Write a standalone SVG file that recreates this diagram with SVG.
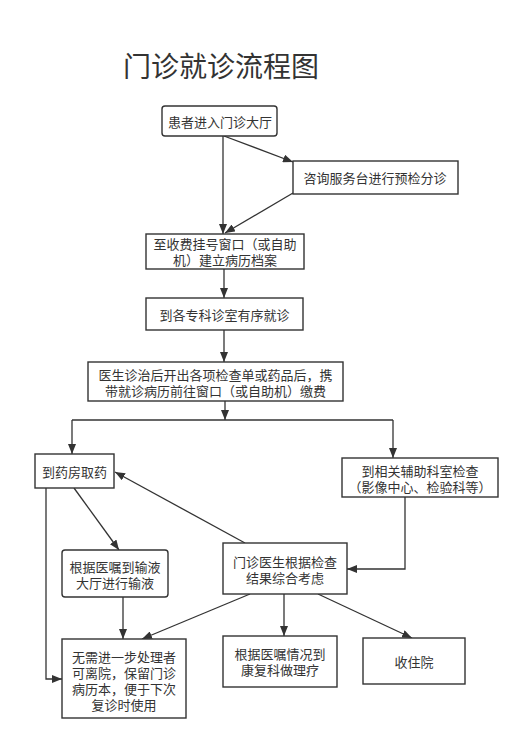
<svg xmlns="http://www.w3.org/2000/svg" width="522" height="742" viewBox="0 0 522 742">
<defs>
<marker id="ah" markerUnits="userSpaceOnUse" markerWidth="10" markerHeight="8" refX="10" refY="4" orient="auto">
<path d="M0,0 L10,4 L0,8 z" fill="#333"/>
</marker>
<style>
.n rect{fill:#fff;stroke:#333;stroke-width:1.4}
.n text,.t{font-family:"Noto Sans CJK SC","Noto Sans",sans-serif;fill:#333;text-anchor:middle;dominant-baseline:central}
.n text{font-size:13px}
.c path{fill:none;stroke:#333;stroke-width:1.3;marker-end:url(#ah)}
.c .p{marker-end:none}
</style>
</defs>
<rect width="522" height="742" fill="#fff"/>
<text class="t" x="221" y="65" font-size="28">门诊就诊流程图</text>
<g class="c">
<path d="M223,136 L223,234"/>
<path d="M224,136 L293,162"/>
<path d="M293,193 L225,233"/>
<path d="M224,269 L224,298"/>
<path d="M224,330 L224,362"/>
<path d="M225,401 L225,420"/>
<path class="p" d="M72,420 L393,420"/>
<path d="M72,420 L72,454"/>
<path d="M393,420 L393,458"/>
<path d="M74,488 L119,550"/>
<path d="M245,543 L115,472"/>
<path d="M405,497 L405,569 L347,569"/>
<path d="M46,488 L46,679 L62,679"/>
<path d="M123,597 L123,639"/>
<path d="M250,594 L142,639"/>
<path d="M284,594 L284,636"/>
<path d="M318,594 L412,638"/>
</g>
<g id="n1" class="n"><rect x="162" y="106" width="115" height="30" rx="3"/><text x="220" y="121">患者进入门诊大厅</text></g>
<g id="n2" class="n"><rect x="293" y="161" width="165" height="33"/><text x="375" y="177.5">咨询服务台进行预检分诊</text></g>
<g id="n3" class="n"><rect x="146" y="234" width="158" height="35"/><text x="225" y="243">至收费挂号窗口（或自助</text><text x="225" y="259">机）建立病历档案</text></g>
<g id="n4" class="n"><rect x="146" y="298" width="157" height="32"/><text x="224.5" y="314">到各专科诊室有序就诊</text></g>
<g id="n5" class="n"><rect x="88" y="362" width="255" height="39"/><text x="215.5" y="374">医生诊治后开出各项检查单或药品后，携</text><text x="215.5" y="390">带就诊病历前往窗口（或自助机）缴费</text></g>
<g id="n6" class="n"><rect x="35" y="454" width="79" height="34"/><text x="74.5" y="471">到药房取药</text></g>
<g id="n7" class="n"><rect x="342" y="458" width="156" height="39"/><text x="420" y="470">到相关辅助科室检查</text><text x="420" y="486">（影像中心、检验科等）</text></g>
<g id="n8" class="n"><rect x="62" y="550" width="106" height="47" rx="3"/><text x="115" y="566">根据医嘱到输液</text><text x="115" y="582">大厅进行输液</text></g>
<g id="n9" class="n"><rect x="223" y="543" width="124" height="51"/><text x="285" y="561">门诊医生根据检查</text><text x="285" y="577">结果综合考虑</text></g>
<g id="n10" class="n"><rect x="62" y="639" width="124" height="79"/><text x="124" y="656">无需进一步处理者</text><text x="124" y="672">可离院，保留门诊</text><text x="124" y="688">病历本，便于下次</text><text x="124" y="704">复诊时使用</text></g>
<g id="n11" class="n"><rect x="223" y="636" width="114" height="51"/><text x="280" y="653">根据医嘱情况到</text><text x="280" y="669">康复科做理疗</text></g>
<g id="n12" class="n"><rect x="363" y="638" width="102" height="46"/><text x="414" y="661">收住院</text></g>
</svg>
